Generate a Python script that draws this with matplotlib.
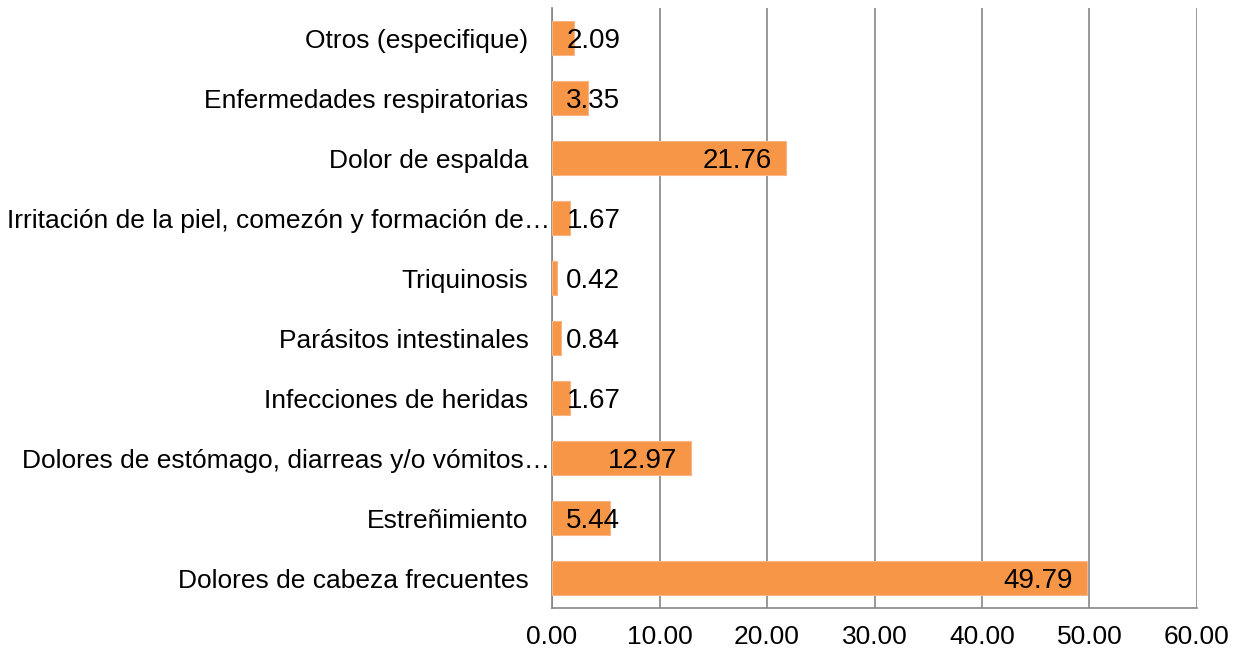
import matplotlib
matplotlib.use("Agg")
from matplotlib import pyplot as plt
from matplotlib.transforms import ScaledTranslation

plt.rcParams["font.family"] = ["Liberation Sans", "DejaVu Sans"]

categories = [
    "Dolores de cabeza frecuentes",
    "Estreñimiento",
    "Dolores de estómago, diarreas y/o vómitos…",
    "Infecciones de heridas",
    "Parásitos intestinales",
    "Triquinosis",
    "Irritación de la piel, comezón y formación de…",
    "Dolor de espalda",
    "Enfermedades respiratorias",
    "Otros (especifique)",
]
values = [49.79, 5.44, 12.97, 1.67, 0.84, 0.42, 1.67, 21.76, 3.35, 2.09]
ticks = [0, 10, 20, 30, 40, 50, 60]

fig = plt.figure(figsize=(12.33, 6.53), dpi=100)
ax = fig.add_axes([0.4477, 0.0689, 0.5231, 0.9188])

pos = range(len(categories))
ax.barh(pos, values, height=0.58, color="#F79646", edgecolor="#FAB585", linewidth=0.8, zorder=3)

# data labels (Excel style: inside end, pushed out for short bars)
for i, v in enumerate(values):
    x = max(v - 1.3, 6.35)
    ax.text(x, i, "%.2f" % v, ha="right", va="center_baseline", fontsize=20, color="black", zorder=4)

ax.set_xlim(0, 60)
ax.set_ylim(-0.5, len(categories) - 0.5)
ax.set_xticks(ticks)
ax.set_xticklabels(["%.2f" % t for t in ticks], fontsize=19)
ax.set_yticks(list(pos))
ax.set_yticklabels(categories, fontsize=19)
ax.tick_params(axis="x", length=0, pad=12)
ax.tick_params(axis="y", length=0, pad=17)

# truncated labels sit closer to the axis
shift = ScaledTranslation(0.22, 0, fig.dpi_scale_trans)
for lab in ax.get_yticklabels():
    if lab.get_text().endswith("…"):
        lab.set_transform(lab.get_transform() + shift)

ax.grid(axis="x", color="#868686", linewidth=1.2, zorder=0)
for s in ["top", "right"]:
    ax.spines[s].set_visible(False)
ax.spines["left"].set_color("#868686")
ax.spines["bottom"].set_color("#868686")
ax.spines["left"].set_linewidth(1.2)
ax.spines["bottom"].set_linewidth(1.2)

fig.savefig("out.png", dpi=100)
